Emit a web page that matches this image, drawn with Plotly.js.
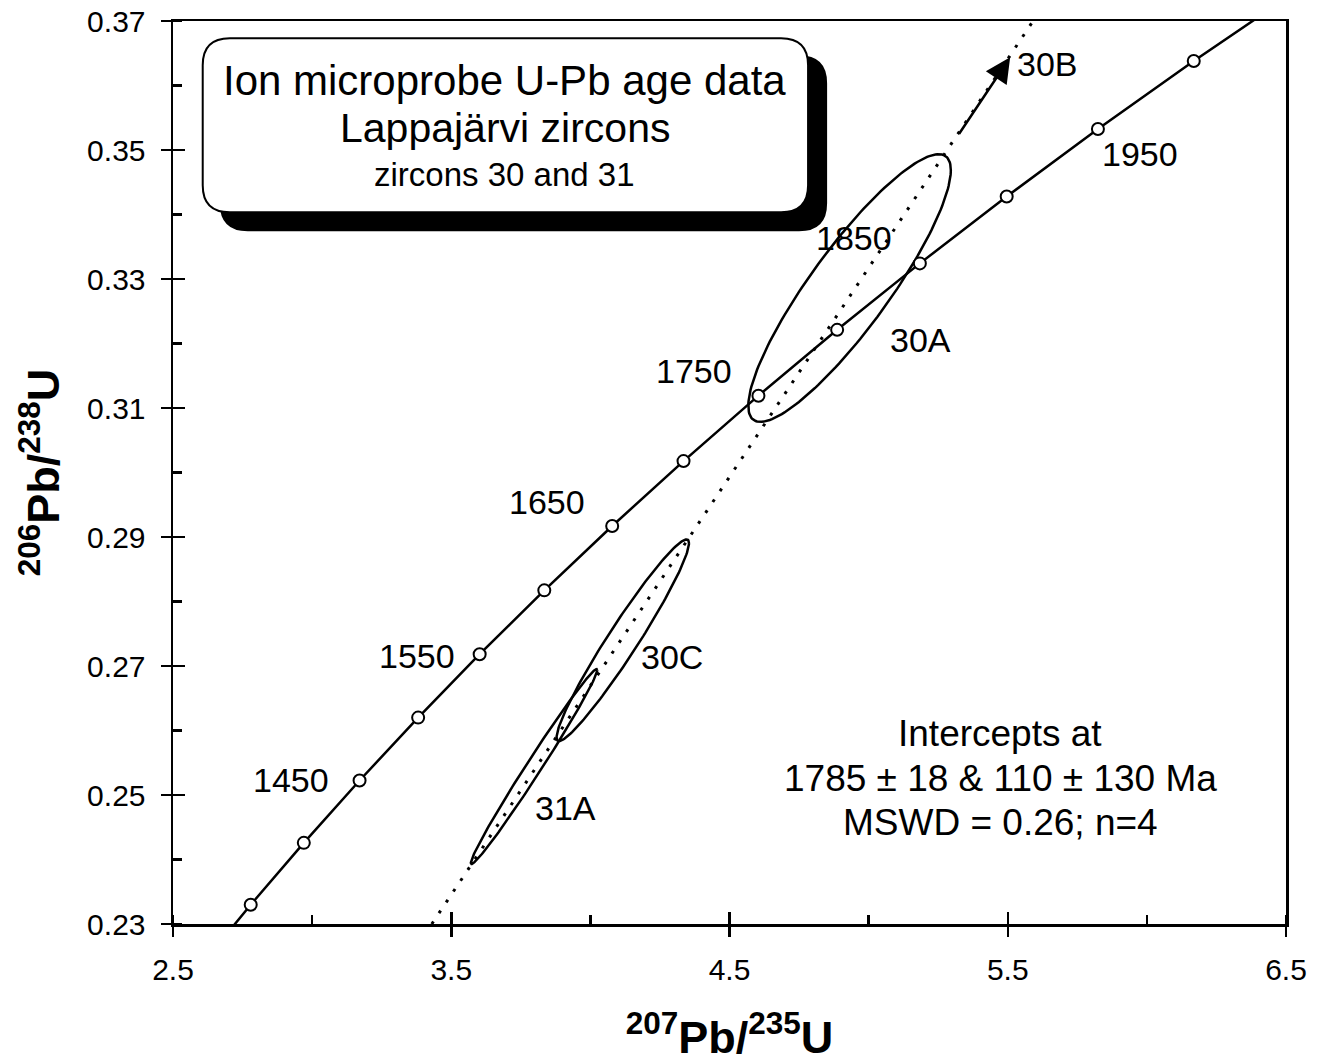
<!DOCTYPE html>
<html>
<head>
<meta charset="utf-8">
<script src="https://cdn.plot.ly/plotly-3.0.1.min.js"></script>
<style>html,body{margin:0;padding:0;background:#fff;}#chart{width:1319px;height:1063px;}</style>
</head>
<body>
<div id="chart"></div>
<script>
// ---- Data ----
// Concordia tick marks (age in Ma) and their ratios
const concAges = [1350,1400,1450,1500,1550,1600,1650,1700,1750,1800,1850,1900,1950,2000];
const concX = [2.7793,2.9701,3.1705,3.3810,3.6021,3.8344,4.0784,4.3348,4.6040,4.8869,5.1841,5.4962,5.8241,6.1685];
const concY = [0.23298,0.24258,0.25225,0.26200,0.27183,0.28173,0.29171,0.30177,0.31191,0.32212,0.33242,0.34279,0.35325,0.36379];
// concordia curve continues beyond the plotted window (1300 and 2050 Ma)
const concStartX = 2.5977, concStartY = 0.22344;
const concEndX = 6.5304, concEndY = 0.37442;
const ageLabels = ['1450','1550','1650','1750','1850','1950'];

// Analyses (error ellipses): centre, half-widths, error correlation
const spotNames = ['30A','30C','31A'];
const spotX   = [4.9315, 4.1165, 3.7976];
const spotSX  = [0.3639, 0.2379, 0.2271];
const spotY   = [0.32860, 0.27399, 0.25441];
const spotSY  = [0.02075, 0.01563, 0.01511];
const spotRho = [0.88, 0.963, 0.99];

// Discordia line
const discordiaX = [3.430, 5.591];
const discordiaY = [0.23, 0.37];

// Spot 30B lies off the diagram (arrow)
const arrowTail = [5.3217, 0.35228];
const arrowTip  = [5.5086, 0.36437];

const xTickVals = [2.5,3.5,4.5,5.5,6.5];
const yTickVals = [0.23,0.25,0.27,0.29,0.31,0.33,0.35,0.37];

const boxLines = ['Ion microprobe U-Pb age data','Lappajärvi zircons','zircons 30 and 31'];
const resultLines = ['Intercepts at','1785 ± 18 & 110 ± 130 Ma','MSWD = 0.26; n=4'];

// ---- Build traces ----
const FONT = 'Liberation Sans, Arial, Helvetica, sans-serif';
const traces = [];

function ellipse(cx, sx, cy, sy, rho) {
  const xs = [], ys = [];
  const n = 180;
  const k = Math.sqrt(1 - rho * rho);
  for (let i = 0; i <= n; i++) {
    const t = 2 * Math.PI * i / n;
    xs.push(cx + sx * Math.cos(t));
    ys.push(cy + sy * (rho * Math.cos(t) + k * Math.sin(t)));
  }
  return {xs, ys};
}

for (let i = 0; i < spotNames.length; i++) {
  const e = ellipse(spotX[i], spotSX[i], spotY[i], spotSY[i], spotRho[i]);
  traces.push({type:'scatter', mode:'lines', x:e.xs, y:e.ys, line:{color:'#000', width:2.5}, hoverinfo:'skip', name:spotNames[i]});
}

traces.push({type:'scatter', mode:'lines', x:discordiaX, y:discordiaY,
  line:{color:'#000', width:3, dash:'3px,10px'}, hoverinfo:'skip'});

traces.push({type:'scatter', mode:'lines',
  x:[concStartX].concat(concX, [concEndX]),
  y:[concStartY].concat(concY, [concEndY]),
  line:{color:'#000', width:2.5}, hoverinfo:'skip'});

traces.push({type:'scatter', mode:'markers', x:concX, y:concY, text:concAges.map(String),
  marker:{symbol:'circle', size:12, color:'#fff', line:{color:'#000', width:2}}, hoverinfo:'text'});

// helper trace for the second (tick-only) axes
traces.push({type:'scatter', mode:'markers', x:[], y:[], xaxis:'x2', yaxis:'y2', hoverinfo:'skip'});

// ---- Annotations ----
const annotations = [];
const ageLabelPos = {
  '1450':[2.9232,0.25232], '1550':[3.3761,0.27154], '1650':[3.8439,0.29540],
  '1750':[4.3718,0.31571], '1850':[4.9471,0.33632], '1950':[5.9755,0.34934]
};
ageLabels.forEach(a => {
  annotations.push({x:ageLabelPos[a][0], y:ageLabelPos[a][1], xref:'x', yref:'y', text:a, showarrow:false,
    xanchor:'center', yanchor:'middle', font:{family:FONT, size:34, color:'#000'}});
});
const spotLabelPos = {'30A':[5.1853,0.32051], '30C':[4.2931,0.27138], '31A':[3.9119,0.24798]};
spotNames.forEach(s => {
  annotations.push({x:spotLabelPos[s][0], y:spotLabelPos[s][1], xref:'x', yref:'y', text:s, showarrow:false,
    xanchor:'center', yanchor:'middle', font:{family:FONT, size:34, color:'#000'}});
});
annotations.push({x:5.6416, y:0.36329, xref:'x', yref:'y', text:'30B', showarrow:false,
  xanchor:'center', yanchor:'middle', font:{family:FONT, size:34, color:'#000'}});
annotations.push({x:arrowTip[0], y:arrowTip[1], ax:arrowTail[0], ay:arrowTail[1], xref:'x', yref:'y', axref:'x', ayref:'y',
  text:'', showarrow:true, arrowhead:2, arrowsize:2, arrowwidth:2.5, arrowcolor:'#000', standoff:0, startstandoff:0});

const resultY = [0.25960, 0.25263, 0.24581];
resultLines.forEach((t, i) => {
  annotations.push({x:5.4727, y:resultY[i], xref:'x', yref:'y', text:t, showarrow:false,
    xanchor:'center', yanchor:'middle', font:{family:FONT, size:37, color:'#000'}});
});

const boxY = [0.9340, 0.8810, 0.8296];
const boxSize = [42, 41, 33];
boxLines.forEach((t, i) => {
  annotations.push({x:0.2982, y:boxY[i], xref:'paper', yref:'paper', text:t, showarrow:false,
    xanchor:'center', yanchor:'middle', font:{family:FONT, size:boxSize[i], color:'#000'}});
});

// ---- Rounded title box with shadow ----
function roundRect(x0, x1, y0, y1, rx, ry) {
  // y0 bottom, y1 top (paper coords)
  return `M ${x0+rx},${y1} L ${x1-rx},${y1} Q ${x1},${y1} ${x1},${y1-ry} L ${x1},${y0+ry} Q ${x1},${y0} ${x1-rx},${y0} ` +
         `L ${x0+rx},${y0} Q ${x0},${y0} ${x0},${y0+ry} L ${x0},${y1-ry} Q ${x0},${y1} ${x0+rx},${y1} Z`;
}
const rx = 0.0243, ry = 0.0299;
const shapes = [
  {type:'path', xref:'paper', yref:'paper', layer:'above', path:roundRect(0.0429,0.5868,0.7683,0.9609,rx,ry),
   fillcolor:'#000', line:{color:'#000', width:2}},
  {type:'path', xref:'paper', yref:'paper', layer:'above', path:roundRect(0.0267,0.5706,0.7882,0.9809,rx,ry),
   fillcolor:'#fff', line:{color:'#000', width:2}}
];

const axisCommon = {showgrid:false, zeroline:false, fixedrange:true, automargin:false};

const layout = {
  width:1319, height:1063,
  margin:{l:173, r:33, t:21, b:139, pad:0},
  paper_bgcolor:'#fff', plot_bgcolor:'#fff',
  showlegend:false,
  font:{family:FONT, color:'#000'},
  xaxis:Object.assign({}, axisCommon, {
    range:[2.5,6.5], tickmode:'array', tickvals:xTickVals, tickformat:'.1f',
    ticks:'outside', ticklen:10, tickwidth:2.5, tickcolor:'#000', ticklabelstandoff:7,
    showline:true, linewidth:2.5, linecolor:'#000', mirror:true,
    tickfont:{family:FONT, size:30, color:'#000'},
    minor:{tick0:2.5, dtick:0.5, ticks:'inside', ticklen:9, tickwidth:2.5, tickcolor:'#000', showgrid:false},
    title:{text:'<b><sup>207</sup>Pb/<sup>235</sup>U</b>', font:{family:FONT, size:45, color:'#000'}, standoff:41}
  }),
  yaxis:Object.assign({}, axisCommon, {
    range:[0.23,0.37], tickmode:'array', tickvals:yTickVals, tickformat:'.2f',
    ticks:'outside', ticklen:10, tickwidth:2.5, tickcolor:'#000', ticklabelstandoff:9,
    showline:true, linewidth:2.5, linecolor:'#000', mirror:true,
    tickfont:{family:FONT, size:30, color:'#000'},
    minor:{tick0:0.23, dtick:0.01, ticks:'inside', ticklen:9, tickwidth:2.5, tickcolor:'#000', showgrid:false},
    title:{text:'<b><sup>206</sup>Pb/<sup>238</sup>U</b>', font:{family:FONT, size:45, color:'#000'}, standoff:14}
  }),
  xaxis2:Object.assign({}, axisCommon, {
    overlaying:'x', anchor:'y2', side:'bottom', range:[2.5,6.5], tickmode:'array', tickvals:xTickVals,
    ticks:'inside', ticklen:12, tickwidth:2.5, tickcolor:'#000', showticklabels:false, showline:false
  }),
  yaxis2:Object.assign({}, axisCommon, {
    overlaying:'y', anchor:'x2', side:'left', range:[0.23,0.37], tickmode:'array', tickvals:yTickVals,
    ticks:'inside', ticklen:12, tickwidth:2.5, tickcolor:'#000', showticklabels:false, showline:false
  }),
  annotations:annotations,
  shapes:shapes
};

Plotly.newPlot('chart', traces, layout, {staticPlot:true, displayModeBar:false});
</script>
</body>
</html>
